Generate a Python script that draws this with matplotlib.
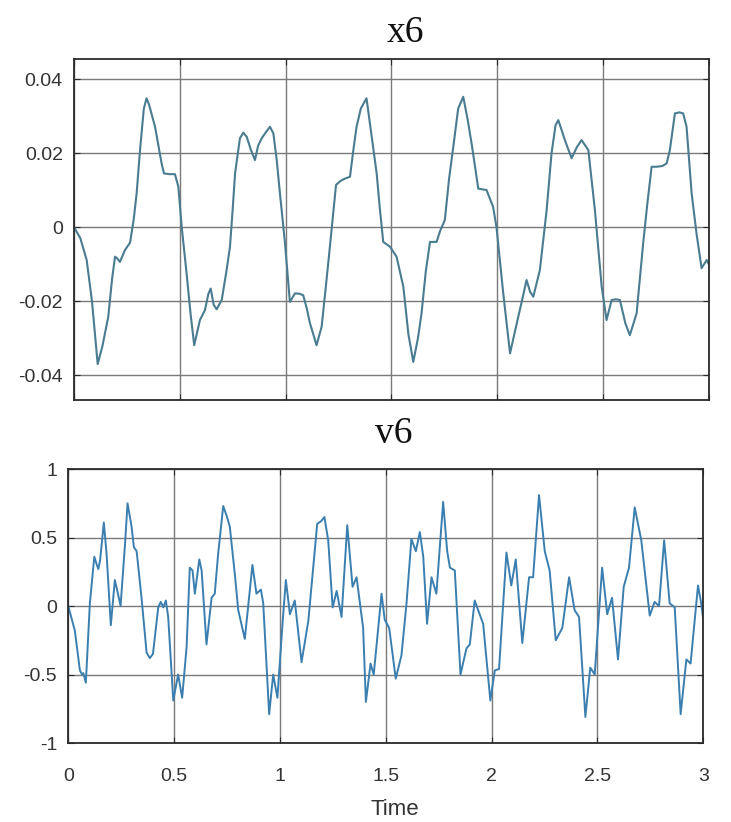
import numpy as np
import matplotlib
matplotlib.use('Agg')
import matplotlib.pyplot as plt

# x6 trace
t_x6 = [0.000, 0.030, 0.060, 0.085, 0.112, 0.135, 0.162, 0.180, 0.194, 0.205,
        0.217, 0.241, 0.265, 0.282, 0.296, 0.312, 0.330, 0.343, 0.355, 0.383,
        0.414, 0.425, 0.450, 0.477, 0.493, 0.509, 0.532, 0.550, 0.568, 0.595,
        0.619, 0.635, 0.646, 0.660, 0.674, 0.698, 0.720, 0.737, 0.750, 0.761,
        0.784, 0.800, 0.816, 0.835, 0.855, 0.870, 0.887, 0.905, 0.926, 0.942,
        0.958, 0.973, 0.997, 1.020, 1.044, 1.065, 1.083, 1.100, 1.115, 1.146,
        1.170, 1.190, 1.209, 1.238, 1.260, 1.280, 1.304, 1.318, 1.335, 1.355,
        1.382, 1.405, 1.430, 1.445, 1.461, 1.493, 1.524, 1.556, 1.580, 1.603,
        1.625, 1.642, 1.662, 1.682, 1.713, 1.730, 1.752, 1.772, 1.792, 1.815,
        1.839, 1.860, 1.880, 1.910, 1.949, 1.980, 1.996, 2.028, 2.060, 2.080,
        2.099, 2.120, 2.138, 2.155, 2.170, 2.201, 2.220, 2.233, 2.256, 2.275,
        2.288, 2.305, 2.319, 2.351, 2.375, 2.398, 2.430, 2.445, 2.461, 2.493,
        2.516, 2.540, 2.560, 2.579, 2.605, 2.626, 2.658, 2.689, 2.710, 2.729,
        2.752, 2.780, 2.800, 2.815, 2.839, 2.860, 2.878, 2.894, 2.918, 2.941,
        2.965, 2.989, 3.000]
x6 = [0.0000, -0.0030, -0.0089, -0.0200, -0.0370, -0.0320, -0.0242, -0.0140, -0.0080, -0.0085,
      -0.0094, -0.0062, -0.0042, 0.0020, 0.0091, 0.0208, 0.0320, 0.0348, 0.0330, 0.0271,
      0.0172, 0.0145, 0.0143, 0.0143, 0.0109, 0.0000, -0.0125, -0.0230, -0.0319, -0.0251,
      -0.0224, -0.0180, -0.0166, -0.0210, -0.0222, -0.0197, -0.0120, -0.0053, 0.0050, 0.0145,
      0.0240, 0.0255, 0.0244, 0.0210, 0.0181, 0.0220, 0.0240, 0.0255, 0.0271, 0.0253,
      0.0180, 0.0091, -0.0044, -0.0202, -0.0179, -0.0180, -0.0184, -0.0220, -0.0260, -0.0319,
      -0.0269, -0.0160, -0.0053, 0.0114, 0.0125, 0.0131, 0.0136, 0.0200, 0.0271, 0.0320,
      0.0348, 0.0250, 0.0145, 0.0050, -0.0040, -0.0053, -0.0080, -0.0161, -0.0290, -0.0364,
      -0.0300, -0.0233, -0.0120, -0.0040, -0.0040, -0.0010, 0.0019, 0.0130, 0.0217, 0.0320,
      0.0352, 0.0290, 0.0220, 0.0104, 0.0100, 0.0055, 0.0000, -0.0179, -0.0341, -0.0290,
      -0.0242, -0.0190, -0.0143, -0.0175, -0.0188, -0.0116, -0.0020, 0.0046, 0.0199, 0.0275,
      0.0289, 0.0260, 0.0235, 0.0186, 0.0215, 0.0235, 0.0208, 0.0130, 0.0046, -0.0161,
      -0.0251, -0.0197, -0.0195, -0.0197, -0.0260, -0.0292, -0.0233, -0.0044, 0.0070, 0.0163,
      0.0163, 0.0165, 0.0172, 0.0208, 0.0307, 0.0310, 0.0307, 0.0271, 0.0091, -0.0017,
      -0.0111, -0.0089, -0.0101]

# v6 trace
t_v6 = [0.000, 0.031, 0.055, 0.065, 0.071, 0.083, 0.102, 0.123, 0.135, 0.142,
        0.150, 0.168, 0.181, 0.201, 0.220, 0.236, 0.247, 0.268, 0.280, 0.299,
        0.310, 0.323, 0.346, 0.370, 0.385, 0.400, 0.425, 0.437, 0.449, 0.461,
        0.472, 0.496, 0.519, 0.538, 0.559, 0.574, 0.587, 0.598, 0.619, 0.630,
        0.653, 0.677, 0.692, 0.708, 0.732, 0.750, 0.763, 0.787, 0.803, 0.834,
        0.870, 0.889, 0.910, 0.921, 0.949, 0.968, 0.988, 1.012, 1.028, 1.047,
        1.070, 1.102, 1.134, 1.176, 1.195, 1.210, 1.228, 1.249, 1.268, 1.291,
        1.318, 1.343, 1.362, 1.393, 1.406, 1.428, 1.443, 1.480, 1.495, 1.516,
        1.547, 1.574, 1.598, 1.621, 1.642, 1.661, 1.677, 1.695, 1.716, 1.739,
        1.771, 1.790, 1.803, 1.826, 1.853, 1.881, 1.897, 1.920, 1.960, 1.994,
        2.015, 2.035, 2.070, 2.093, 2.114, 2.145, 2.177, 2.196, 2.224, 2.251,
        2.274, 2.303, 2.334, 2.366, 2.392, 2.413, 2.443, 2.466, 2.487, 2.522,
        2.546, 2.569, 2.597, 2.624, 2.649, 2.676, 2.707, 2.747, 2.770, 2.791,
        2.815, 2.841, 2.865, 2.893, 2.920, 2.940, 2.975, 2.990, 3.000]
v6 = [0.00, -0.18, -0.47, -0.50, -0.49, -0.56, 0.02, 0.36, 0.30, 0.27,
      0.33, 0.61, 0.38, -0.14, 0.19, 0.08, 0.00, 0.45, 0.75, 0.58,
      0.43, 0.40, 0.06, -0.34, -0.38, -0.35, -0.01, 0.03, -0.01, 0.04,
      -0.08, -0.69, -0.50, -0.67, -0.30, 0.28, 0.26, 0.09, 0.34, 0.26,
      -0.28, 0.06, 0.09, 0.38, 0.73, 0.65, 0.58, 0.23, -0.03, -0.24,
      0.30, 0.09, 0.12, 0.02, -0.79, -0.50, -0.67, -0.13, 0.19, -0.06,
      0.04, -0.41, -0.11, 0.60, 0.62, 0.65, 0.48, -0.01, 0.11, -0.08,
      0.59, 0.14, 0.21, -0.16, -0.70, -0.42, -0.50, 0.09, -0.10, -0.16,
      -0.53, -0.36, 0.02, 0.49, 0.40, 0.54, 0.36, -0.13, 0.21, 0.09,
      0.76, 0.40, 0.28, 0.26, -0.50, -0.31, -0.28, 0.04, -0.13, -0.69,
      -0.47, -0.46, 0.39, 0.15, 0.34, -0.27, 0.21, 0.21, 0.81, 0.40,
      0.26, -0.25, -0.16, 0.21, -0.03, -0.08, -0.81, -0.45, -0.50, 0.28,
      -0.06, 0.06, -0.39, 0.14, 0.28, 0.72, 0.48, -0.07, 0.03, 0.00,
      0.48, 0.02, -0.01, -0.79, -0.39, -0.42, 0.15, 0.02, -0.10]

x_ticks = [0, 0.5, 1, 1.5, 2, 2.5, 3]
x_labels = ['0', '0.5', '1', '1.5', '2', '2.5', '3']
top_yticks = [-0.04, -0.02, 0, 0.02, 0.04]
top_ylabels = ['-0.04', '-0.02', '0', '0.02', '0.04']
bot_yticks = [-1, -0.5, 0, 0.5, 1]
bot_ylabels = ['-1', '-0.5', '0', '0.5', '1']

plt.rcParams['font.family'] = ['Liberation Sans', 'DejaVu Sans']

fig = plt.figure(figsize=(7.31, 8.22), dpi=100)
fig.patch.set_facecolor('white')

def style(ax):
    ax.grid(True, color='#7a7a7a', linewidth=1.0)
    ax.set_axisbelow(True)
    for s in ax.spines.values():
        s.set_color('#2a2a2a')
        s.set_linewidth(1.3)
    ax.tick_params(direction='in', length=4, width=0.8, colors='#2a2a2a',
                   labelcolor='#333333', labelsize=14, top=True, right=True, pad=8)

ax1 = fig.add_axes([0.1012, 0.5134, 0.8687, 0.4148])
ax1.plot(t_x6, x6, color='#4a7c91', linewidth=1.5, solid_joinstyle='round')
ax1.set_xlim(0, 3)
ax1.set_ylim(-0.0467, 0.0454)
ax1.set_xticks(x_ticks)
ax1.set_xticklabels([])
ax1.set_yticks(top_yticks)
ax1.set_yticklabels(top_ylabels)
style(ax1)

ax2 = fig.add_axes([0.0934, 0.0961, 0.8687, 0.3333])
ax2.plot(t_v6, v6, color='#3a7fb0', linewidth=1.4, solid_joinstyle='round')
ax2.set_xlim(0, 3)
ax2.set_ylim(-1, 1)
ax2.set_xticks(x_ticks)
ax2.set_xticklabels(x_labels)
ax2.set_yticks(bot_yticks)
ax2.set_yticklabels(bot_ylabels)
style(ax2)
ax2.tick_params(axis='x', pad=18)

fig.text(0.554, 0.9489, 'x6', family=['Liberation Serif', 'DejaVu Serif'],
         fontsize=27, ha='center', va='baseline', color='#111111')
fig.text(0.539, 0.461, 'v6', family=['Liberation Serif', 'DejaVu Serif'],
         fontsize=27, ha='center', va='baseline', color='#111111')
fig.text(0.540, 0.0085, 'Time', fontsize=16, ha='center', va='baseline',
         color='#333333')

fig.savefig('out.png', dpi=100, facecolor='white')
